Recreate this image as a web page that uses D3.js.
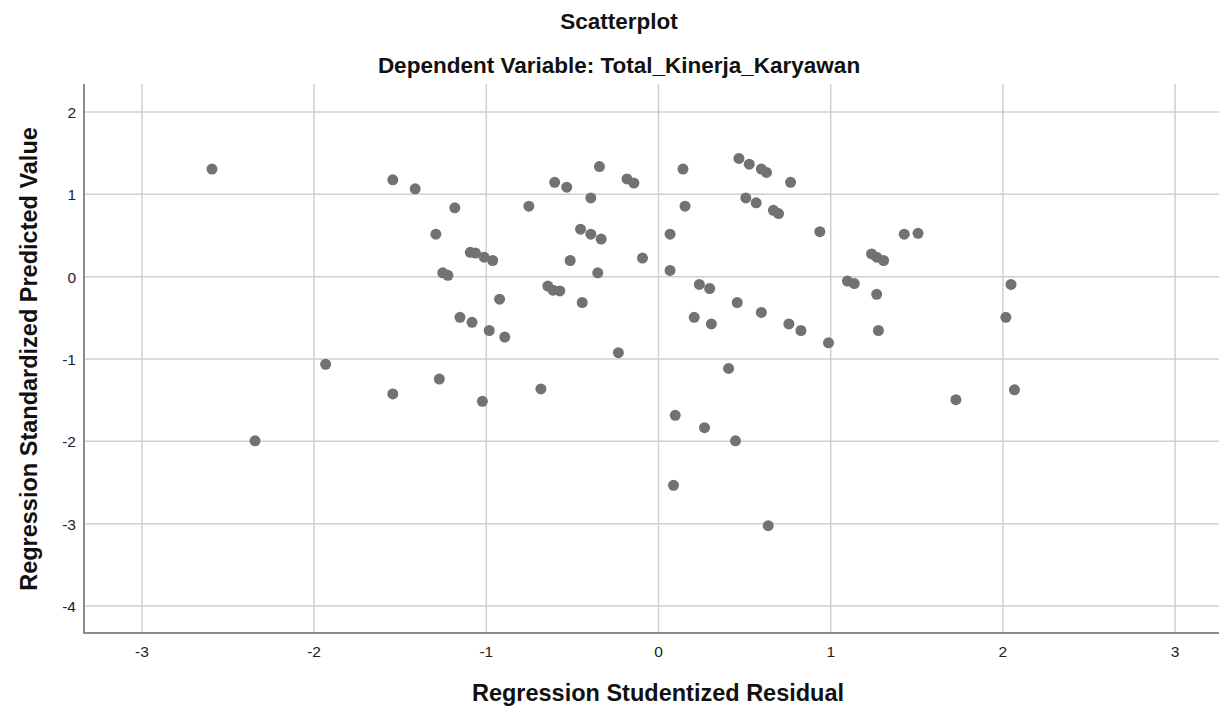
<!DOCTYPE html>
<html>
<head>
<meta charset="utf-8">
<script src="https://cdn.jsdelivr.net/npm/d3@7"></script>
<style>
  html, body { margin: 0; padding: 0; background: #fff; }
  svg { display: block; font-family: "Liberation Sans", Arial, sans-serif; }
</style>
</head>
<body>
<svg id="chart" width="1219" height="709"></svg>
<script>
const titleText = "Scatterplot";
const subtitleText = "Dependent Variable: Total_Kinerja_Karyawan";
const xLabel = "Regression Studentized Residual";
const yLabel = "Regression Standardized Predicted Value";
const xTicks = [-3, -2, -1, 0, 1, 2, 3];
const yTicks = [2, 1, 0, -1, -2, -3, -4];

const residual = [
  -2.59, -2.34, -1.93, -1.54, -1.54, -1.41, -1.18, -1.29, -1.25, -1.22,
  -1.27, -1.15, -1.08, -1.09, -1.06, -1.01, -0.96, -0.98, -0.92, -0.89,
  -0.75, -0.60, -0.53, -0.34, -0.39, -0.18, -0.14, -0.45, -0.39, -0.33,
  -0.51, -0.35, -0.64, -0.61, -0.57, -0.44, -0.23, -0.09, 0.07, 0.07,
  0.145, 0.157, 0.47, 0.53, 0.60, 0.63, 0.77, 0.51, 0.57, 0.67,
  0.70, 0.94, 1.24, 1.27, 1.31, 0.24, 0.30, 1.10, 1.14, 1.27,
  0.46, 0.21, 0.31, 0.60, 0.76, 0.83, 0.99, 1.28, 0.41, 1.43,
  1.51, 2.05, 2.02, 2.07, 1.73, -1.02, -0.68, 0.10, 0.27, 0.45,
  0.09, 0.64
];
const predicted = [
  1.30, -2.00, -1.07, 1.17, -1.43, 1.06, 0.83, 0.51, 0.04, 0.01,
  -1.25, -0.50, -0.56, 0.29, 0.28, 0.23, 0.19, -0.66, -0.28, -0.74,
  0.85, 1.14, 1.08, 1.33, 0.95, 1.18, 1.13, 0.57, 0.51, 0.45,
  0.19, 0.04, -0.12, -0.17, -0.18, -0.32, -0.93, 0.22, 0.51, 0.07,
  1.30, 0.85, 1.43, 1.36, 1.30, 1.26, 1.14, 0.95, 0.89, 0.80,
  0.76, 0.54, 0.27, 0.23, 0.19, -0.10, -0.15, -0.06, -0.09, -0.22,
  -0.32, -0.50, -0.58, -0.44, -0.58, -0.66, -0.81, -0.66, -1.12, 0.51,
  0.52, -0.10, -0.50, -1.38, -1.50, -1.52, -1.37, -1.69, -1.84, -2.00,
  -2.54, -3.03
];

(function () {
const points = residual.map((r, i) => ({ x: r, y: predicted[i] }));

const svg = d3.select("#chart");
const pLeft = 84, pRight = 1232, pTop = 84, pBottom = 633;

const x = d3.scaleLinear().domain([-3.3333, 3.3333]).range([pLeft, pRight]);
const y = d3.scaleLinear().domain([-4.3333, 2.3333]).range([pBottom, pTop]);

const gridColor = "#cfcfcf";
const axisColor = "#8c8c8c";
const fmt = d => String(d);

// vertical gridlines
svg.append("g")
  .attr("transform", `translate(0,${pBottom})`)
  .call(d3.axisBottom(x).tickValues(xTicks).tickSize(-(pBottom - pTop)).tickFormat(""))
  .call(g => g.select(".domain").remove())
  .call(g => g.selectAll("line").attr("stroke", gridColor).attr("stroke-width", 1.5));

// horizontal gridlines
svg.append("g")
  .attr("transform", `translate(${pLeft},0)`)
  .call(d3.axisLeft(y).tickValues(yTicks).tickSize(-(pRight - pLeft)).tickFormat(""))
  .call(g => g.select(".domain").remove())
  .call(g => g.selectAll("line").attr("stroke", gridColor).attr("stroke-width", 1.5));

// x axis labels
svg.append("g")
  .attr("transform", `translate(0,${pBottom})`)
  .call(d3.axisBottom(x).tickValues(xTicks).tickSize(0).tickPadding(0).tickFormat(fmt))
  .call(g => g.select(".domain").remove())
  .call(g => g.selectAll("text")
    .attr("y", 24).attr("dy", null)
    .attr("fill", "#222").style("font-size", "15.5px")
    .style("font-family", "'Liberation Sans', Arial, sans-serif"));

// y axis labels
svg.append("g")
  .attr("transform", `translate(${pLeft},0)`)
  .call(d3.axisLeft(y).tickValues(yTicks).tickSize(0).tickPadding(8).tickFormat(fmt))
  .call(g => g.select(".domain").remove())
  .call(g => g.selectAll("text")
    .attr("dy", "0.38em")
    .attr("fill", "#222").style("font-size", "15.5px")
    .style("font-family", "'Liberation Sans', Arial, sans-serif"));

// axis lines
svg.append("line")
  .attr("x1", x.range()[0]).attr("x2", x.range()[0])
  .attr("y1", y.range()[1]).attr("y2", y.range()[0])
  .attr("stroke", axisColor).attr("stroke-width", 2);
svg.append("line")
  .attr("x1", x.range()[0] - 1).attr("x2", x.range()[1])
  .attr("y1", y.range()[0]).attr("y2", y.range()[0])
  .attr("stroke", axisColor).attr("stroke-width", 2);

// points
svg.append("g")
  .selectAll("circle")
  .data(points)
  .join("circle")
  .attr("cx", d => x(d.x))
  .attr("cy", d => y(d.y))
  .attr("r", 5.5)
  .attr("fill", "#727272");

// titles
svg.append("text")
  .attr("x", 619).attr("y", 29)
  .attr("text-anchor", "middle")
  .style("font-size", "22.5px").style("font-weight", "bold")
  .attr("fill", "#111")
  .text(titleText);

svg.append("text")
  .attr("x", 619).attr("y", 73)
  .attr("text-anchor", "middle")
  .style("font-size", "22.5px").style("font-weight", "bold")
  .attr("fill", "#111")
  .text(subtitleText);

svg.append("text")
  .attr("x", 658).attr("y", 701)
  .attr("text-anchor", "middle")
  .style("font-size", "23.5px").style("font-weight", "bold")
  .attr("fill", "#111")
  .text(xLabel);

svg.append("text")
  .attr("transform", `translate(37,359) rotate(-90)`)
  .attr("text-anchor", "middle")
  .style("font-size", "23.5px").style("font-weight", "bold")
  .attr("fill", "#111")
  .text(yLabel);
})();
</script>
</body>
</html>
